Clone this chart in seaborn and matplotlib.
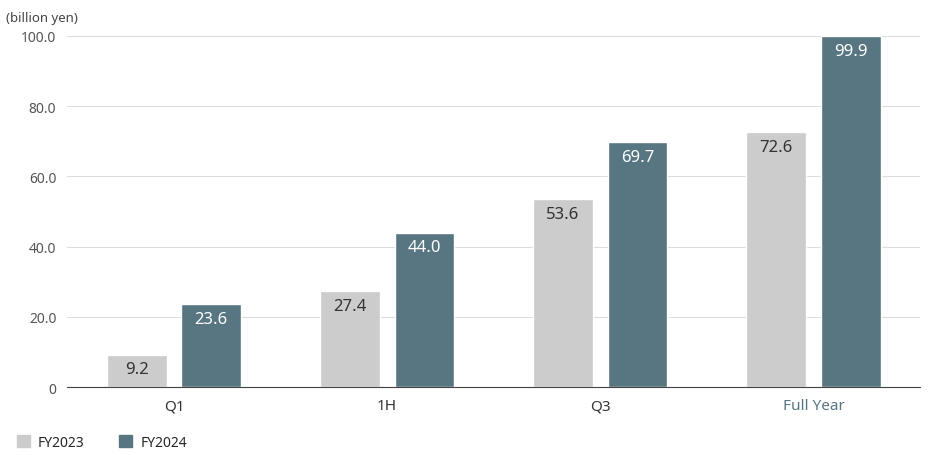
import matplotlib
matplotlib.use('Agg')
import matplotlib.pyplot as plt
import seaborn as sns
import pandas as pd
from matplotlib.patches import Patch

categories = ['Q1', '1H', 'Q3', 'Full Year']
fy2023 = [9.2, 27.4, 53.6, 72.6]
fy2024 = [23.6, 44.0, 69.7, 99.9]
series = ['FY2023', 'FY2024']
colors = ['#cccccc', '#587682']

df = pd.DataFrame({
    'period': categories * 2,
    'value': fy2023 + fy2024,
    'year': [series[0]] * 4 + [series[1]] * 4,
})

sns.set_style('white')
plt.rcParams['font.family'] = ['Noto Sans', 'DejaVu Sans']

fig = plt.figure(figsize=(9.36, 4.56), dpi=100)
ax = fig.add_axes([0.072, 0.149, 0.911, 0.77])
sns.barplot(data=df, x='period', y='value', hue='year', palette=colors,
            width=0.7, gap=0.2, ax=ax, legend=False, saturation=1)

ax.set_ylim(0, 100)
ax.set_xlim(-0.5, 3.5)
ax.set_yticks([0, 20, 40, 60, 80, 100])
ax.set_yticklabels(['0', '20.0', '40.0', '60.0', '80.0', '100.0'], color='#555555', fontsize=10)
ax.yaxis.grid(True, color='#dddddd', linewidth=0.8)
ax.set_axisbelow(True)
for s in ['top', 'right', 'left']:
    ax.spines[s].set_visible(False)
ax.spines['bottom'].set_color('#444444')
ax.tick_params(axis='y', length=0, pad=8)
ax.tick_params(axis='x', length=0, pad=8)
ax.set_xlabel('')
ax.set_ylabel('')
for i, lbl in enumerate(ax.get_xticklabels()):
    lbl.set_fontsize(11)
    if i == 3:
        lbl.set_color('#587682')
        lbl.set_fontweight('bold')
    else:
        lbl.set_color('#333333')

for j, cont in enumerate(ax.containers):
    for k, bar in enumerate(cont):
        v = bar.get_height()
        bold = (j == 1 and k == 3)
        ax.text(bar.get_x() + bar.get_width() / 2, v - 4.2, f'{v:.1f}',
                ha='center', va='center', fontsize=12,
                color='white' if j == 1 else '#333333',
                fontweight='bold' if bold else 'normal')

fig.text(0.006, 0.96, '(billion yen)', fontsize=9.5, color='#444444', va='center')
handles = [Patch(color=c, label=s) for c, s in zip(colors, series)]
fig.legend(handles=handles, loc='center left', bbox_to_anchor=(0.005, 0.028),
           ncol=2, frameon=False, fontsize=10, handlelength=0.9, handleheight=0.9,
           columnspacing=2.5, handletextpad=0.6)

fig.savefig('out.png', dpi=100)
